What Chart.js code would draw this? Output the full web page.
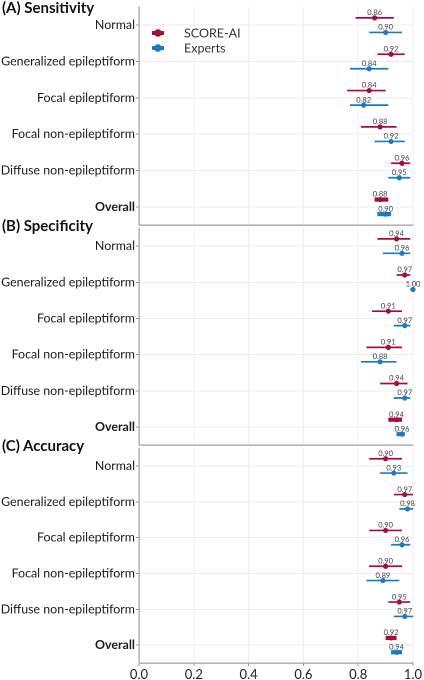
<!DOCTYPE html>
<html>
<head>
<meta charset="utf-8">
<script src="https://cdn.jsdelivr.net/npm/chart.js@4.4.1/dist/chart.umd.min.js"></script>
<style>
    html, body { margin: 0; padding: 0; background: #fff; }
    #wrap { position: relative; width: 424px; height: 680px; overflow: hidden; }
    canvas { position: absolute; left: 0; display: block; }
    .title { position: absolute; left: 2px; font: bold 15px Lato, sans-serif; color: #111; white-space: nowrap; }
</style>
</head>
<body>
<div id="wrap">
    <!-- each canvas is 5px taller than its panel: chart.js keeps a small bottom gap -->
    <canvas id="chart-a" width="424" height="229" style="top:0"></canvas>
    <canvas id="chart-b" width="424" height="225" style="top:224px"></canvas>
    <canvas id="chart-c" width="424" height="236" style="top:444px"></canvas>
    <div class="title" style="top:-2px">(A) Sensitivity</div>
    <div class="title" style="top:216px">(B) Specificity</div>
    <div class="title" style="top:436px">(C) Accuracy</div>
</div>
<script>
// Categories and axis ticks
const categories = ['Normal', 'Generalized epileptiform', 'Focal epileptiform',
    'Focal non-epileptiform', 'Diffuse non-epileptiform', 'Overall'];
const xTicks = [0, 0.2, 0.4, 0.6, 0.8, 1.0];
const seriesNames = ['SCORE-AI', 'Experts'];

// (A) Sensitivity
const sensAi = [0.86, 0.92, 0.84, 0.88, 0.96, 0.88];
const sensAiLow = [0.79, 0.87, 0.76, 0.81, 0.92, 0.86];
const sensAiHigh = [0.93, 0.97, 0.90, 0.94, 0.99, 0.91];
const sensExp = [0.90, 0.84, 0.82, 0.92, 0.95, 0.90];
const sensExpLow = [0.84, 0.77, 0.77, 0.86, 0.91, 0.87];
const sensExpHigh = [0.96, 0.91, 0.91, 0.97, 0.99, 0.92];

// (B) Specificity
const specAi = [0.94, 0.97, 0.91, 0.91, 0.94, 0.94];
const specAiLow = [0.87, 0.94, 0.85, 0.83, 0.88, 0.91];
const specAiHigh = [0.99, 0.99, 0.96, 0.96, 0.98, 0.96];
const specExp = [0.96, 1.00, 0.97, 0.88, 0.97, 0.96];
const specExpLow = [0.89, 0.99, 0.93, 0.81, 0.93, 0.94];
const specExpHigh = [0.99, 1.00, 0.99, 0.94, 0.99, 0.97];

// (C) Accuracy
const accAi = [0.90, 0.97, 0.90, 0.90, 0.95, 0.92];
const accAiLow = [0.84, 0.93, 0.84, 0.84, 0.91, 0.90];
const accAiHigh = [0.96, 1.00, 0.96, 0.96, 0.99, 0.94];
const accExp = [0.93, 0.98, 0.96, 0.89, 0.97, 0.94];
const accExpLow = [0.88, 0.95, 0.92, 0.83, 0.93, 0.92];
const accExpHigh = [0.98, 1.00, 0.99, 0.95, 1.00, 0.96];

const RED = '#a50e3c';
const BLUE = '#1b7ac4';
const FONT = 'Lato, sans-serif';
const OFFSET = 0.2;

// build the interval segments, broken by null gaps
function intervals(low, high, shift) {
    const pts = [];
    low.forEach((lo, i) => {
        pts.push({ x: lo, y: i + shift }, { x: high[i], y: i + shift }, { x: null, y: null });
    });
    return pts;
}

function points(vals, shift) {
    return vals.map((v, i) => ({ x: v, y: i + shift }));
}

// small value labels above each estimate
const valueLabels = {
    id: 'valueLabels',
    afterDatasetsDraw(chart) {
        const ctx = chart.ctx;
        ctx.save();
        ctx.font = '7.5px ' + FONT;
        ctx.fillStyle = '#444';
        ctx.textAlign = 'center';
        ctx.textBaseline = 'bottom';
        chart.data.datasets.forEach((ds, di) => {
            if (!ds.valueLabel) return;
            chart.getDatasetMeta(di).data.forEach((el, j) => {
                ctx.fillText(ds.data[j].x.toFixed(2), el.x, el.y - 1.5);
            });
        });
        ctx.restore();
    }
};

// legend drawn inside the first panel
const insideLegend = {
    id: 'insideLegend',
    afterDraw(chart, args, opts) {
        if (!opts.show) return;
        const ctx = chart.ctx;
        const left = chart.chartArea.left;
        const top = chart.chartArea.top;
        ctx.save();
        [RED, BLUE].forEach((c, i) => {
            const y = top + 26 + i * 15;
            ctx.strokeStyle = c;
            ctx.fillStyle = c;
            ctx.lineWidth = 4;
            ctx.beginPath();
            ctx.moveTo(left + 13, y);
            ctx.lineTo(left + 25, y);
            ctx.stroke();
            ctx.beginPath();
            ctx.arc(left + 19, y, 3.8, 0, Math.PI * 2);
            ctx.fill();
            ctx.fillStyle = '#333';
            ctx.font = '12.5px ' + FONT;
            ctx.textAlign = 'left';
            ctx.textBaseline = 'middle';
            ctx.fillText(seriesNames[i], left + 45, y + 0.5);
        });
        ctx.restore();
    }
};

function makePanel(id, ai, aiLow, aiHigh, exp, expLow, expHigh, cfg) {
    // the Overall row gets a thicker interval bar
    const ciWidth = c => (c.p0.parsed.y > 4.5 ? 4.2 : 1.7);
    return new Chart(document.getElementById(id).getContext('2d'), {
        type: 'scatter',
        data: {
            datasets: [
                {
                    label: seriesNames[0], data: points(ai, -OFFSET), valueLabel: true,
                    backgroundColor: RED, pointRadius: 2.6, borderWidth: 0, order: 0, clip: false
                },
                {
                    label: seriesNames[1], data: points(exp, OFFSET), valueLabel: true,
                    backgroundColor: BLUE, pointRadius: 2.6, borderWidth: 0, order: 0, clip: false
                },
                {
                    label: 'ci-ai', data: intervals(aiLow, aiHigh, -OFFSET), showLine: true,
                    spanGaps: false, borderColor: RED, borderWidth: 1.7, pointRadius: 0,
                    segment: { borderWidth: ciWidth }, order: 1, clip: false
                },
                {
                    label: 'ci-exp', data: intervals(expLow, expHigh, OFFSET), showLine: true,
                    spanGaps: false, borderColor: BLUE, borderWidth: 1.7, pointRadius: 0,
                    segment: { borderWidth: ciWidth }, order: 1, clip: false
                }
            ]
        },
        options: {
            responsive: false,
            animation: false,
            devicePixelRatio: 2,
            layout: { padding: { top: cfg.padTop, right: 11, left: 0, bottom: 0 } },
            plugins: {
                legend: { display: false },
                tooltip: { enabled: false },
                insideLegend: { show: cfg.legend }
            },
            scales: {
                x: {
                    type: 'linear',
                    min: 0,
                    max: 1,
                    afterBuildTicks: s => { s.ticks = xTicks.map(v => ({ value: v })); },
                    afterFit: s => { s.height = cfg.xHeight; },
                    ticks: {
                        display: cfg.xLabels,
                        callback: v => v.toFixed(1),
                        font: { family: FONT, size: 13 },
                        color: '#222',
                        padding: 1,
                        maxRotation: 0
                    },
                    grid: { color: '#ededed', drawTicks: cfg.xLabels, tickLength: 3, tickColor: '#999' },
                    border: { color: '#a0a0a0', width: 1.2 }
                },
                y: {
                    type: 'linear',
                    reverse: true,
                    min: -0.5,
                    max: 5.5,
                    afterBuildTicks: s => { s.ticks = categories.map((c, i) => ({ value: i })); },
                    afterFit: s => {
                        s.width = 139;
                        s.paddingTop = 0;
                        s.paddingBottom = 0;
                    },
                    ticks: {
                        callback: v => categories[v],
                        font: c => ({ family: FONT, size: 12.4, weight: c.tick && c.tick.value === 5 ? 'bold' : 'normal' }),
                        color: '#1a1a1a',
                        padding: 1
                    },
                    grid: { color: '#ededed', tickLength: 3, tickColor: '#999' },
                    border: { color: '#a0a0a0', width: 1.2 }
                }
            }
        },
        plugins: [valueLabels, insideLegend]
    });
}

makePanel('chart-a', sensAi, sensAiLow, sensAiHigh, sensExp, sensExpLow, sensExpHigh,
    { padTop: 7, xHeight: 0, xLabels: false, legend: true });
makePanel('chart-b', specAi, specAiLow, specAiHigh, specExp, specExpLow, specExpHigh,
    { padTop: 1, xHeight: 0, xLabels: false, legend: false });
makePanel('chart-c', accAi, accAiLow, accAiHigh, accExp, accExpLow, accExpHigh,
    { padTop: 1, xHeight: 17, xLabels: true, legend: false });
</script>
</body>
</html>
